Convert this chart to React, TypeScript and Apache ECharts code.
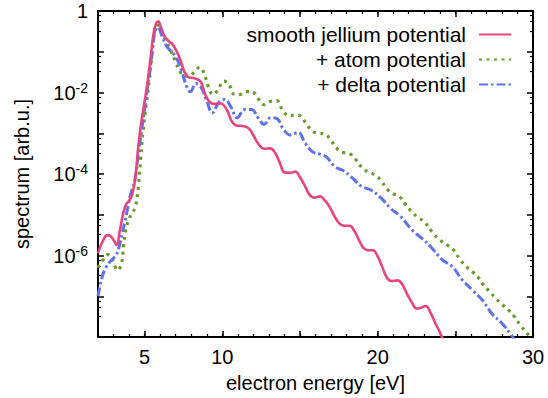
import React, { useEffect, useRef } from "react";
import * as echarts from "echarts";

// Photoelectron spectra (log10 of intensity) vs. electron energy in eV
const jelliumX = [2.0, 2.3, 2.6, 2.8, 3.0, 3.2, 3.4, 3.6, 3.8, 4.0, 4.2, 4.4, 4.6, 4.8, 5.0, 5.2, 5.4, 5.6, 5.75, 5.87, 6.05, 6.3, 6.55, 6.8, 7.05, 7.3, 7.55, 7.8, 8.2, 8.6, 8.9, 9.2, 9.5, 9.9, 10.3, 10.6, 10.9, 11.3, 11.7, 12.0, 12.3, 12.7, 13.1, 13.4, 13.7, 14.0, 14.4, 14.7, 15.0, 15.3, 15.6, 15.9, 16.3, 16.6, 16.9, 17.2, 17.5, 17.8, 18.2, 18.5, 18.8, 19.1, 19.4, 19.7, 20.0, 20.3, 20.6, 20.9, 21.3, 21.6, 21.9, 22.2, 22.5, 22.8, 23.1, 23.4, 23.7, 24.0, 24.3];
const jelliumLog = [-5.95, -5.65, -5.5, -5.52, -5.62, -5.74, -5.4, -5.0, -4.75, -4.66, -4.5, -4.1, -3.3, -2.7, -2.22, -1.72, -1.1, -0.5, -0.3, -0.25, -0.4, -0.63, -0.74, -0.82, -0.98, -1.2, -1.48, -1.62, -1.65, -1.73, -2.05, -2.24, -2.28, -2.27, -2.43, -2.7, -2.81, -2.82, -2.88, -3.05, -3.25, -3.38, -3.37, -3.48, -3.72, -3.96, -3.97, -3.94, -4.08, -4.28, -4.5, -4.58, -4.55, -4.65, -4.8, -5.02, -5.2, -5.27, -5.27, -5.4, -5.62, -5.82, -5.87, -5.87, -6.02, -6.28, -6.55, -6.63, -6.61, -6.72, -6.95, -7.15, -7.3, -7.28, -7.24, -7.4, -7.65, -7.88, -8.15];

const atomX = [2.0, 2.3, 2.65, 2.95, 3.25, 3.5, 3.65, 3.8, 4.0, 4.2, 4.4, 4.6, 4.75, 4.9, 5.1, 5.3, 5.45, 5.6, 5.75, 5.88, 6.1, 6.4, 6.7, 7.0, 7.3, 7.55, 7.85, 8.2, 8.55, 8.8, 9.1, 9.4, 9.7, 10.1, 10.4, 10.8, 11.1, 11.5, 11.9, 12.3, 12.7, 13.1, 13.5, 13.9, 14.3, 14.7, 15.0, 15.4, 15.8, 16.2, 16.6, 17.0, 17.4, 17.8, 18.2, 18.6, 19.0, 19.4, 19.8, 20.2, 20.6, 21.0, 21.4, 21.8, 22.2, 22.6, 23.0, 23.5, 24.0, 24.5, 24.9, 25.3, 25.7, 26.1, 26.5, 26.8, 27.2, 27.6, 28.0, 28.4, 28.8, 29.2, 29.6, 30.0];
const atomLog = [-6.3, -6.12, -5.98, -6.12, -6.36, -6.22, -5.75, -5.35, -5.1, -4.95, -4.82, -4.3, -3.6, -2.95, -2.3, -1.7, -1.15, -0.6, -0.4, -0.35, -0.52, -0.75, -0.98, -1.25, -1.5, -1.6, -1.6, -1.5, -1.38, -1.5, -1.85, -2.05, -1.95, -1.72, -1.78, -2.05, -2.05, -1.98, -1.98, -2.15, -2.3, -2.22, -2.2, -2.45, -2.57, -2.55, -2.57, -2.76, -2.95, -3.0, -3.02, -3.18, -3.38, -3.47, -3.5, -3.65, -3.85, -3.95, -4.02, -4.15, -4.37, -4.48, -4.55, -4.75, -4.93, -5.07, -5.17, -5.42, -5.62, -5.75, -5.87, -6.1, -6.27, -6.4, -6.55, -6.72, -6.88, -7.05, -7.2, -7.33, -7.5, -7.72, -7.9, -8.1];

const deltaX = [2.0, 2.25, 2.5, 2.85, 3.15, 3.35, 3.55, 3.75, 3.9, 4.1, 4.35, 4.6, 4.8, 5.0, 5.2, 5.4, 5.6, 5.75, 5.85, 6.1, 6.45, 7.0, 7.4, 7.75, 7.95, 8.3, 8.6, 9.0, 9.35, 9.8, 10.15, 10.55, 10.95, 11.45, 11.9, 12.3, 12.7, 13.1, 13.55, 13.9, 14.35, 14.9, 15.3, 15.8, 16.3, 16.7, 17.25, 17.8, 18.3, 18.95, 19.6, 20.25, 20.85, 21.5, 22.2, 22.85, 23.5, 24.15, 24.8, 25.45, 26.1, 26.75, 27.4, 28.0, 28.6, 28.9];
const deltaLog = [-7.0, -6.55, -6.3, -6.12, -6.0, -5.8, -5.45, -5.15, -4.85, -4.5, -4.2, -3.5, -2.95, -2.4, -1.85, -1.3, -0.65, -0.42, -0.4, -0.6, -0.88, -1.12, -1.5, -1.9, -1.98, -1.78, -1.85, -2.2, -2.5, -2.23, -2.17, -2.35, -2.62, -2.42, -2.42, -2.62, -2.78, -2.62, -2.65, -2.88, -3.04, -2.98, -3.22, -3.45, -3.52, -3.58, -3.82, -3.92, -4.07, -4.3, -4.4, -4.6, -4.85, -5.05, -5.37, -5.58, -5.82, -6.1, -6.27, -6.6, -6.85, -7.1, -7.45, -7.66, -7.95, -8.12];

const seriesNames = ["smooth jellium potential", "+ atom potential", "+ delta potential"];
const xLabelValues = [5, 10, 20, 30];
const xMajorTicks = [5, 10, 15, 20, 25, 30];
const yLabelExponents = [0, -2, -4, -6];

const FONT = "Liberation Sans, Arial, sans-serif";

const toPoints = (xs: number[], logs: number[]) => xs.map((x, i) => [x, Math.pow(10, logs[i])]);

export default function App() {
  const ref = useRef<HTMLDivElement>(null);

  useEffect(() => {
    if (!ref.current) return;
    const chart = echarts.init(ref.current, undefined, { renderer: "svg" });

    const frameLine = { show: true, lineStyle: { color: "#000", width: 2 } };
    const minorX = {
      min: 2, max: 30, interval: 1, type: "value" as const,
      axisLine: frameLine,
      axisTick: { show: true, inside: true, length: 3, interval: 0, lineStyle: { color: "#000", width: 1.2 } },
      splitLine: { show: false },
    };
    const majorX = {
      min: 2, max: 30, type: "value" as const,
      axisLine: { show: false },
      axisTick: { show: true, inside: true, length: 6, customValues: xMajorTicks, lineStyle: { color: "#000", width: 1.5 } },
      axisLabel: { show: false },
      splitLine: { show: false },
    };
    const logY = {
      type: "log" as const, logBase: 10, min: 1e-8, max: 1,
      axisLine: frameLine,
      axisTick: { show: true, inside: true, length: 6, lineStyle: { color: "#000", width: 1.5 } },
      minorTick: { show: true, splitNumber: 4, length: 3, lineStyle: { color: "#000", width: 1.2 } },
      splitLine: { show: false },
    };

    chart.setOption({
      animation: false,
      backgroundColor: "#fff",
      textStyle: { fontFamily: FONT },
      grid: { left: 98, right: 15, top: 11, bottom: 61, containLabel: false },
      legend: {
        orient: "vertical",
        right: 31,
        top: 19,
        align: "right",
        itemWidth: 32,
        itemHeight: 10,
        itemGap: 4,
        itemStyle: { opacity: 0 },
        textStyle: { fontSize: 21, color: "#000", fontFamily: FONT, padding: [0, 8, 0, 0] },
        data: seriesNames,
      },
      xAxis: [
        {
          ...minorX,
          position: "bottom",
          name: "electron energy [eV]",
          nameLocation: "middle",
          nameGap: 36,
          nameTextStyle: { fontSize: 20, color: "#000", fontFamily: FONT },
          axisLabel: {
            show: true, customValues: xLabelValues, margin: 10,
            fontSize: 20, color: "#000", fontFamily: FONT,
          },
        },
        { ...majorX, position: "bottom" },
        { ...minorX, position: "top", axisLabel: { show: false } },
        { ...majorX, position: "top" },
      ],
      yAxis: [
        {
          ...logY,
          position: "left",
          name: "spectrum [arb.u.]",
          nameLocation: "middle",
          nameGap: 66,
          nameTextStyle: { fontSize: 20, color: "#000", fontFamily: FONT },
          axisLabel: {
            show: true, margin: 10, fontSize: 20, color: "#000", fontFamily: FONT,
            formatter: (v: number) => {
              const e = Math.round(Math.log10(v));
              if (!yLabelExponents.includes(e)) return "";
              if (e === 0) return "1";
              return `{b|10}{s|${e}}`;
            },
            rich: {
              b: { fontSize: 20, fontFamily: FONT, color: "#000" },
              s: { fontSize: 14, fontFamily: FONT, color: "#000", verticalAlign: "top", padding: [0, 0, 10, 0] },
            },
          },
        },
        { ...logY, position: "right", axisLabel: { show: false } },
      ],
      series: [
        {
          name: seriesNames[0], type: "line", xAxisIndex: 0, yAxisIndex: 0,
          data: toPoints(jelliumX, jelliumLog), smooth: 0.4, showSymbol: false, symbol: "none",
          lineStyle: { color: "#e8457e", width: 2.6 }, itemStyle: { color: "#e8457e" }, z: 3,
        },
        {
          name: seriesNames[1], type: "line", xAxisIndex: 0, yAxisIndex: 0,
          data: toPoints(atomX, atomLog), smooth: 0.4, showSymbol: false, symbol: "none",
          lineStyle: { color: "#6d9a2c", width: 3.2, type: [3, 4.5] }, itemStyle: { color: "#6d9a2c" }, z: 2,
        },
        {
          name: seriesNames[2], type: "line", xAxisIndex: 0, yAxisIndex: 0,
          data: toPoints(deltaX, deltaLog), smooth: 0.4, showSymbol: false, symbol: "none",
          lineStyle: { color: "#6173ea", width: 3, type: [9, 3, 2.5, 3] }, itemStyle: { color: "#6173ea" }, z: 2,
        },
      ],
    });

    return () => chart.dispose();
  }, []);

  return (
    <div
      ref={ref}
      style={{ position: "fixed", left: 0, top: 0, width: 548, height: 398, background: "#fff" }}
    />
  );
}
